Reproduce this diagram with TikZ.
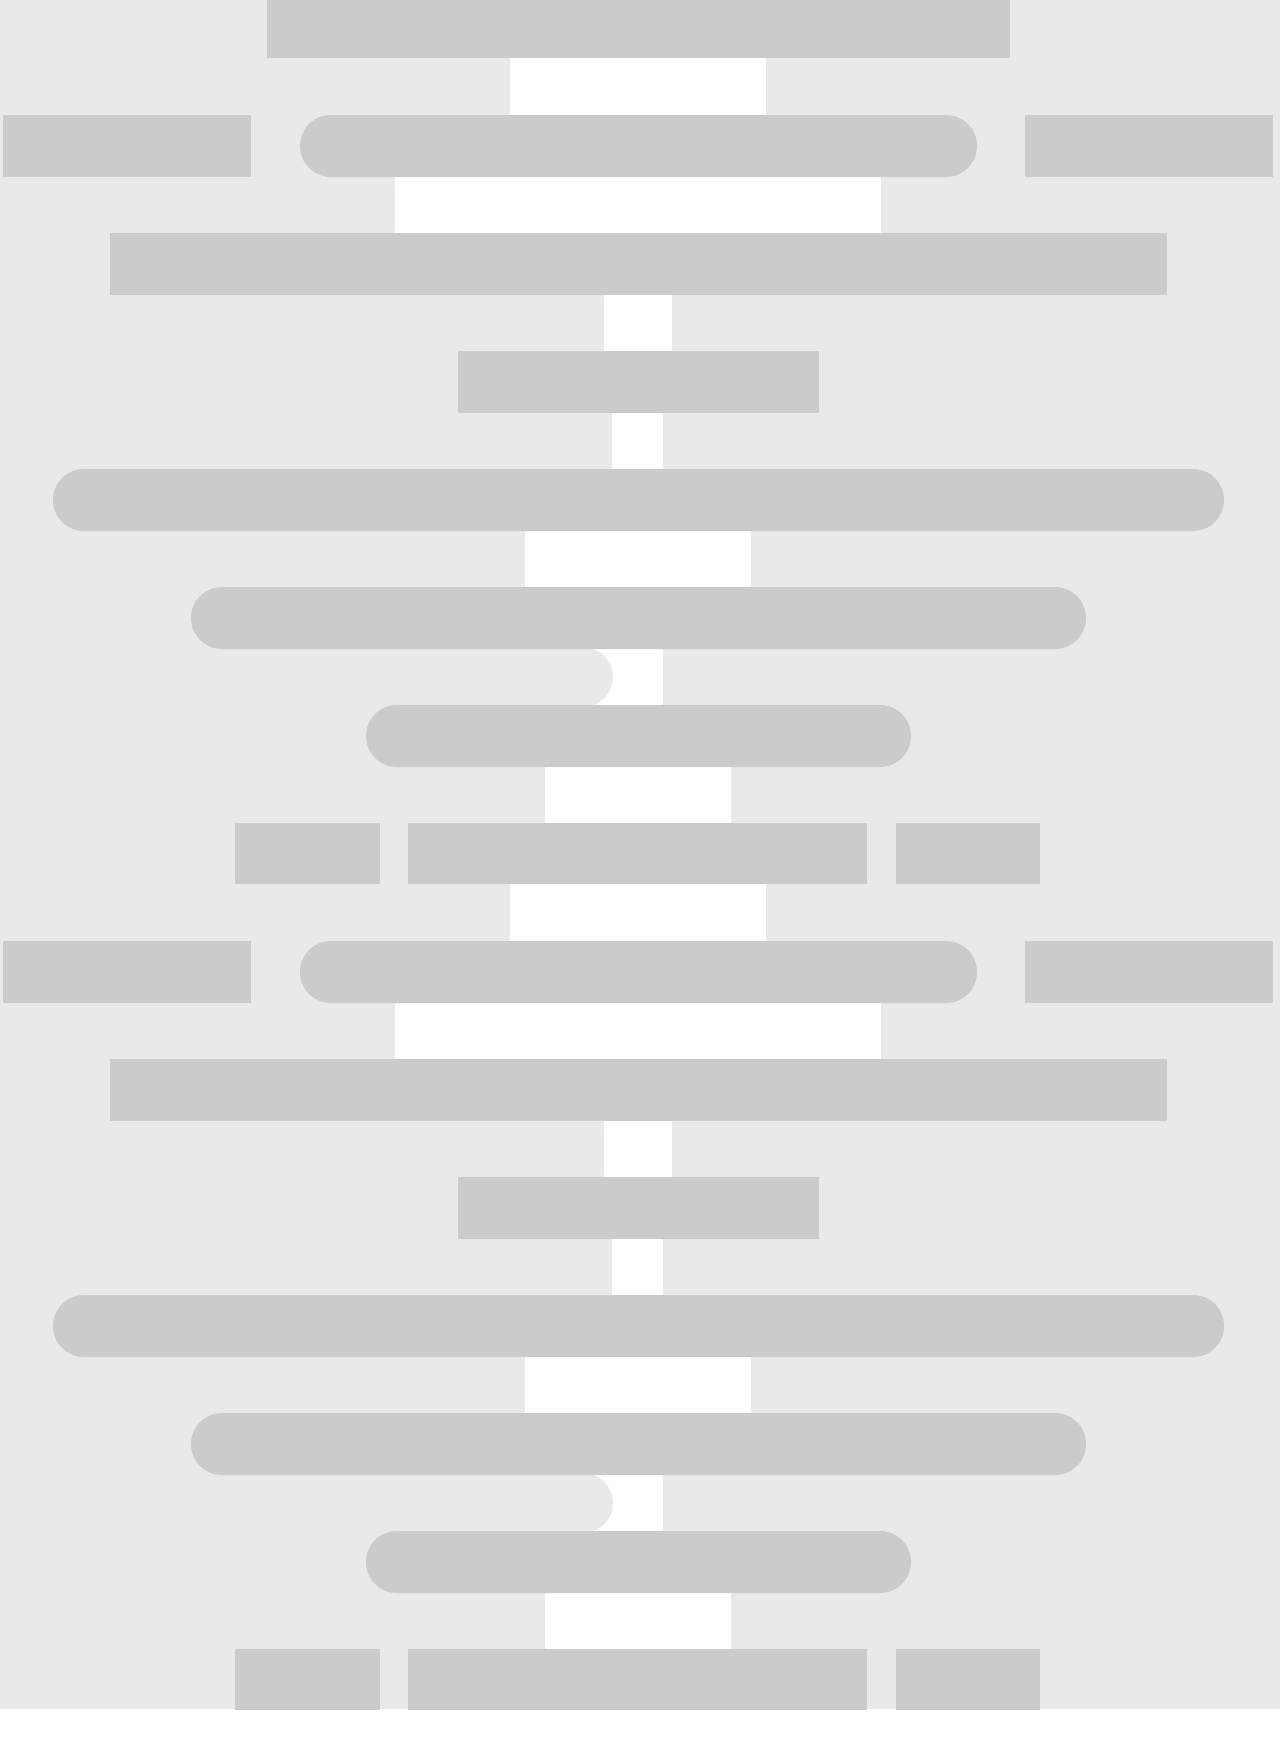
\documentclass[tikz,border=0pt]{standalone}
\usepackage{tikz}

\definecolor{pagebg}{HTML}{EAE8E9}
\definecolor{boxgray}{HTML}{CBCBCB}

\begin{document}
\begin{tikzpicture}[x=0.02cm,y=-0.02cm,
    box/.style={fill=boxgray},
    pill/.style={fill=boxgray, rounded corners=0.62cm},
    band/.style={fill=white}]
\useasboundingbox (0,0) rectangle (1280,1755);
\fill[pagebg] (0,0) rectangle (1280,1709);
\fill[box] (267,-3) rectangle (1010,58);
\foreach \s in {0,826} {
\begin{scope}[shift={(0,\s)}]
% white bands
\fill[band] (510,58) rectangle (766,115);
\fill[band] (395,177) rectangle (881,233);
\fill[band] (604,295) rectangle (672,351);
\fill[band] (612,413) rectangle (663,469);
\fill[band] (525,531) rectangle (751,587);
\fill[band] (583,649) rectangle (663,705);
\fill[pagebg] (583,677) circle[radius=0.6cm];
\fill[band] (545,767) rectangle (731,823);
% boxes
\fill[box] (3,115) rectangle (251,177);
\fill[pill] (300,115) rectangle (977,177);
\fill[box] (1025,115) rectangle (1273,177);
\fill[box] (110,233) rectangle (1167,295);
\fill[box] (458,351) rectangle (819,413);
\fill[pill] (53,469) rectangle (1224,531);
\fill[pill] (191,587) rectangle (1086,649);
\fill[pill] (366,705) rectangle (911,767);
\foreach \a/\b in {235/380,408/867,896/1040} {
    \fill[box] (\a,823) rectangle (\b,884);
}
\end{scope}
}
\end{tikzpicture}
\end{document}
